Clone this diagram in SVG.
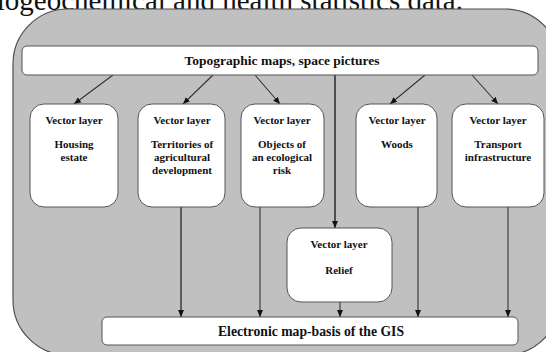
<svg xmlns="http://www.w3.org/2000/svg" width="546" height="352" viewBox="0 0 546 352">
<defs>
<marker id="ah" markerWidth="8" markerHeight="8" refX="7" refY="4" orient="auto" markerUnits="userSpaceOnUse">
<path d="M0,1 L7,4 L0,7 Z" fill="#111"/>
</marker>
<style>
.bg{fill:#c0c0c0;stroke:#505050;stroke-width:1.2}
.box{fill:#fff;stroke:#555;stroke-width:1}
.t{font-family:"Liberation Serif","Times New Roman",serif;font-weight:bold;fill:#111;text-anchor:middle}
.s{font-size:11px}
.c{stroke:#333;stroke-width:1.1;fill:none;marker-end:url(#ah)}
</style>
</defs>
<rect width="546" height="352" fill="#fff"/>
<text x="463" y="10" font-family="'Liberation Serif','Times New Roman',serif" font-size="29" text-anchor="end" fill="#111">biogeochemical and health statistics data.</text>
<rect class="bg" x="13" y="9" width="547" height="346" rx="55" ry="55"/>
<g id="connectors">
<line class="c" x1="113" y1="75" x2="74" y2="104"/>
<line class="c" x1="213" y1="75" x2="183" y2="104"/>
<line class="c" x1="255" y1="75" x2="280" y2="104"/>
<line class="c" x1="425" y1="75" x2="390" y2="104"/>
<line class="c" x1="472" y1="75" x2="498" y2="104"/>
<line class="c" x1="335" y1="75" x2="335" y2="228" style="stroke-width:1.6"/>
<line class="c" x1="181" y1="207" x2="181" y2="317" style="stroke-width:1.4"/>
<line class="c" x1="260" y1="207" x2="260" y2="317"/>
<line class="c" x1="340" y1="302" x2="340" y2="317"/>
<line class="c" x1="418" y1="207" x2="418" y2="317"/>
<line class="c" x1="508" y1="207" x2="508" y2="317"/>
</g>
<g id="top">
<rect class="box" x="22" y="46" width="516" height="29" rx="5"/>
<text class="t" x="282" y="65" font-size="13.5">Topographic maps, space pictures</text>
</g>
<g id="housing">
<rect class="box" x="30" y="104" width="88" height="103" rx="14"/>
<text class="t s" x="74" y="124">Vector layer</text>
<text class="t s" x="74" y="148">Housing</text>
<text class="t s" x="74" y="161">estate</text>
</g>
<g id="territories">
<rect class="box" x="138" y="104" width="87" height="103" rx="14"/>
<text class="t s" x="182" y="124">Vector layer</text>
<text class="t s" x="182" y="148">Territories of</text>
<text class="t s" x="182" y="161">agricultural</text>
<text class="t s" x="182" y="174">development</text>
</g>
<g id="objects">
<rect class="box" x="241" y="104" width="83" height="103" rx="14"/>
<text class="t s" x="282" y="124">Vector layer</text>
<text class="t s" x="282" y="148">Objects of</text>
<text class="t s" x="282" y="161">an ecological</text>
<text class="t s" x="282" y="174">risk</text>
</g>
<g id="woods">
<rect class="box" x="356" y="104" width="81" height="103" rx="14"/>
<text class="t s" x="397" y="124">Vector layer</text>
<text class="t s" x="397" y="148">Woods</text>
</g>
<g id="transport">
<rect class="box" x="452" y="104" width="92" height="103" rx="14"/>
<text class="t s" x="498" y="124">Vector layer</text>
<text class="t s" x="498" y="148">Transport</text>
<text class="t s" x="498" y="161">infrastructure</text>
</g>
<g id="relief">
<rect class="box" x="287" y="228" width="105" height="74" rx="14"/>
<text class="t s" x="339" y="248">Vector layer</text>
<text class="t s" x="339" y="274">Relief</text>
</g>
<g id="bottom">
<rect class="box" x="102" y="317" width="416" height="28" rx="5"/>
<text class="t" x="311" y="336" font-size="13.7">Electronic map-basis of the GIS</text>
</g>
</svg>
